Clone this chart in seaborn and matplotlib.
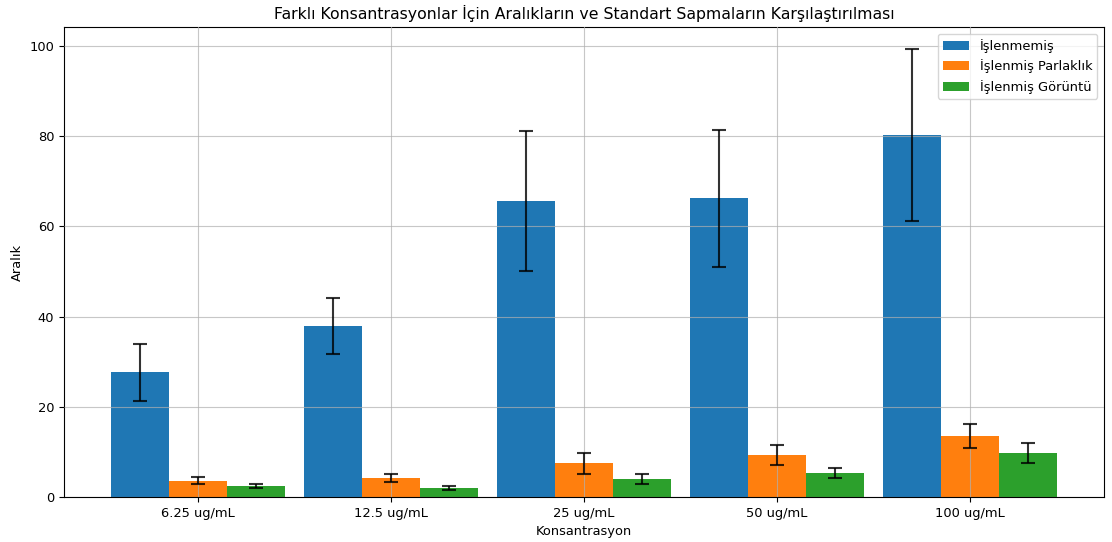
import matplotlib
matplotlib.use("Agg")
import matplotlib.pyplot as plt
import pandas as pd
import seaborn as sns

# Konsantrasyonlar
konsantrasyon = ['6.25 ug/mL', '12.5 ug/mL', '25 ug/mL', '50 ug/mL', '100 ug/mL']

# Ortalama araliklar
islenmemis = [27.6, 38.0, 65.6, 66.2, 80.2]
islenmis_parlaklik = [3.6, 4.2, 7.5, 9.3, 13.5]
islenmis_goruntu = [2.5, 2.0, 3.9, 5.4, 9.7]

# Standart sapmalar
islenmemis_std = [6.4, 6.2, 15.5, 15.2, 19.0]
islenmis_parlaklik_std = [0.8, 0.8, 2.3, 2.3, 2.6]
islenmis_goruntu_std = [0.4, 0.4, 1.1, 1.1, 2.2]

seriler = ['İşlenmemiş', 'İşlenmiş Parlaklık', 'İşlenmiş Görüntü']
degerler = [islenmemis, islenmis_parlaklik, islenmis_goruntu]
sapmalar = [islenmemis_std, islenmis_parlaklik_std, islenmis_goruntu_std]
renkler = ['#1f77b4', '#ff7f0e', '#2ca02c']

rows = []
for s, vals in zip(seriler, degerler):
    for k, v in zip(konsantrasyon, vals):
        rows.append({'Konsantrasyon': k, 'Seri': s, 'Aralık': v})
df = pd.DataFrame(rows)

plt.rcParams['font.size'] = 9.4

fig, ax = plt.subplots(figsize=(11.12, 5.42), dpi=100)
fig.subplots_adjust(left=0.0576, right=0.9928, top=0.950, bottom=0.083)

sns.barplot(data=df, x='Konsantrasyon', y='Aralık', hue='Seri',
            hue_order=seriler, order=konsantrasyon, palette=renkler,
            saturation=1, width=0.9, gap=0, legend=False, ax=ax,
            errorbar=None, zorder=1)

# Hata cubuklari
for cont, std in zip(ax.containers, sapmalar):
    xs = [p.get_x() + p.get_width() / 2 for p in cont]
    hs = [p.get_height() for p in cont]
    ax.errorbar(xs, hs, yerr=std, fmt='none', ecolor='black',
                elinewidth=1.5, capsize=5, capthick=1.5, alpha=0.8, zorder=3)

n = len(konsantrasyon)
ax.set_xlim(-0.45 - 0.245, n - 1 + 0.45 + 0.245)
ax.set_axisbelow(False)
ax.grid(True, color='#b0b0b0', linewidth=0.8, alpha=0.7, zorder=2)
ax.set_title('Farklı Konsantrasyonlar İçin Aralıkların ve Standart Sapmaların Karşılaştırılması',
             fontsize=11.3, pad=6)
ax.set_xlabel('Konsantrasyon')
ax.set_ylabel('Aralık')
ax.legend(ax.containers, seriler, loc='upper right')

fig.savefig('out.png', dpi=100)
